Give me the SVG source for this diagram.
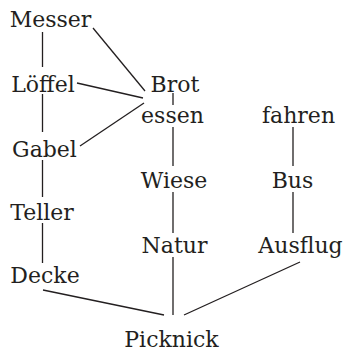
<svg xmlns="http://www.w3.org/2000/svg" width="344" height="351" viewBox="0 0 344 351">
<style>
text{font-family:"DejaVu Serif","Liberation Serif",serif;font-size:22px;fill:#231f20;text-anchor:middle}
line{stroke:#231f20;stroke-width:1.3;fill:none}
</style>
<rect width="344" height="351" fill="#fff"/>
<g id="connectors">
<line x1="42.5" y1="32" x2="42.5" y2="67"/>
<line x1="42.5" y1="94" x2="42.5" y2="132"/>
<line x1="42.5" y1="160" x2="42.5" y2="197"/>
<line x1="42.5" y1="223" x2="42.5" y2="263"/>
<line x1="93" y1="28" x2="145" y2="91"/>
<line x1="77" y1="83" x2="143" y2="98"/>
<line x1="80" y1="146" x2="144" y2="103"/>
<line x1="173" y1="93" x2="173" y2="105"/>
<line x1="173" y1="127" x2="173" y2="166"/>
<line x1="173" y1="192" x2="173" y2="233"/>
<line x1="293" y1="127" x2="293" y2="166"/>
<line x1="293" y1="192" x2="293" y2="233"/>
<line x1="43" y1="290" x2="164" y2="315"/>
<line x1="173" y1="257" x2="173" y2="315"/>
<line x1="300" y1="262" x2="184" y2="315"/>
</g>
<g id="messer"><text x="50.5" y="27">Messer</text></g>
<g id="loeffel"><text x="43" y="92">Löffel</text></g>
<g id="gabel"><text x="44.5" y="157">Gabel</text></g>
<g id="teller"><text x="42" y="220">Teller</text></g>
<g id="decke"><text x="45" y="283">Decke</text></g>
<g id="brot"><text x="175" y="92">Brot</text></g>
<g id="essen"><text x="172.5" y="123">essen</text></g>
<g id="wiese"><text x="174" y="188">Wiese</text></g>
<g id="natur"><text x="174.5" y="253">Natur</text></g>
<g id="fahren"><text x="298.5" y="123">fahren</text></g>
<g id="bus"><text x="292.5" y="188">Bus</text></g>
<g id="ausflug"><text x="300.5" y="253">Ausflug</text></g>
<g id="picknick"><text x="171.5" y="347">Picknick</text></g>
</svg>
